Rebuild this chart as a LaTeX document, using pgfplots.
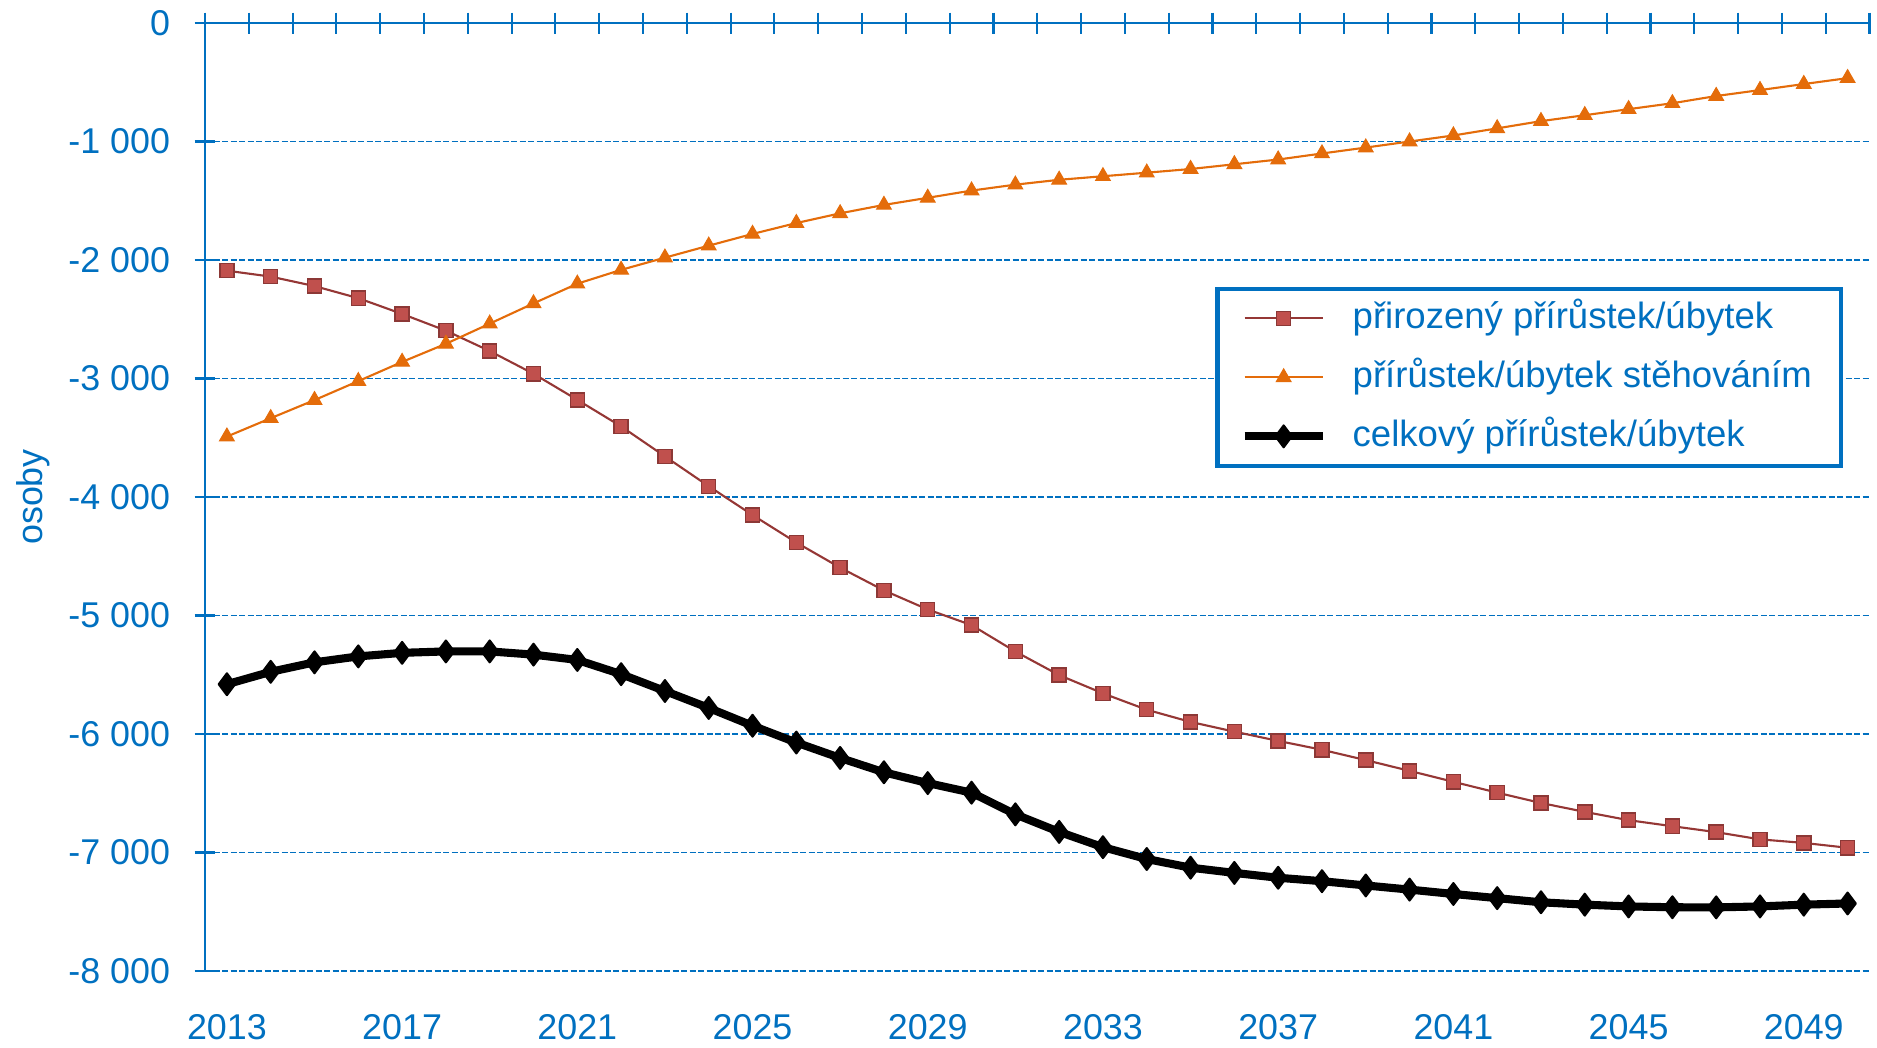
\documentclass[border=0pt]{standalone}
\usepackage{fontspec}
\setmainfont{Liberation Sans}
\usepackage{pgfplots}
\usepackage{pgfplotstable}
\pgfplotsset{compat=1.18}

\definecolor{axblue}{HTML}{0070C0}
\definecolor{natline}{HTML}{953735}
\definecolor{natfill}{HTML}{C0504D}
\definecolor{natdraw}{HTML}{8C3836}
\definecolor{migcol}{HTML}{E46C0A}

% rok, prirozeny, stehovani, celkem
\pgfplotstableread{
year nat mig tot
2013 -2090 -3490 -5580
2014 -2140 -3335 -5475
2015 -2220 -3182 -5395
2016 -2322 -3022 -5345
2017 -2455 -2860 -5315
2018 -2596 -2707 -5303
2019 -2768 -2537 -5303
2020 -2960 -2366 -5330
2021 -3180 -2200 -5375
2022 -3404 -2083 -5495
2023 -3657 -1980 -5637
2024 -3909 -1879 -5780
2025 -4152 -1780 -5930
2026 -4384 -1688 -6072
2027 -4596 -1606 -6202
2028 -4788 -1535 -6323
2029 -4949 -1475 -6414
2030 -5081 -1414 -6495
2031 -5304 -1364 -6678
2032 -5503 -1323 -6826
2033 -5657 -1293 -6955
2034 -5795 -1263 -7055
2035 -5898 -1232 -7128
2036 -5980 -1192 -7172
2037 -6058 -1152 -7213
2038 -6133 -1101 -7242
2039 -6220 -1051 -7278
2040 -6311 -1000 -7313
2041 -6403 -949 -7350
2042 -6495 -889 -7385
2043 -6582 -828 -7420
2044 -6657 -778 -7440
2045 -6727 -727 -7455
2046 -6778 -677 -7462
2047 -6828 -616 -7463
2048 -6889 -566 -7455
2049 -6919 -515 -7440
2050 -6960 -465 -7430
}\data

\pgfplotsset{
  base/.style={
    scale only axis,
    width=166.45mm, height=94.8mm,
    xmin=2012.5, xmax=2050.5,
    ymin=-8000, ymax=0,
    tick label style={font=\fontsize{10.2}{12}\selectfont, text=axblue},
  }
}

\begin{document}
\begin{tikzpicture}
  % tick labels of the years, below the plot
  \begin{axis}[base,
      hide y axis,
      axis x line*=bottom,
      x axis line style={draw=none},
      major tick length=0pt,
      xtick={2013,2017,2021,2025,2029,2033,2037,2041,2045,2049},
      xticklabels={2013,2017,2021,2025,2029,2033,2037,2041,2045,2049},
      xticklabel style={yshift=-3.1mm},
    ]
  \end{axis}

  \begin{axis}[base,
      axis x line*=top,
      axis y line*=left,
      axis line style={axblue, line width=0.6pt},
      tick style={axblue, line width=0.6pt},
      tick align=center,
      major tick length=2.1mm,
      xtick={2012.5,2013.5,...,2050.5},
      xticklabels={},
      ytick={-8000,-7000,...,0},
      yticklabels={-8 000,-7 000,-6 000,-5 000,-4 000,-3 000,-2 000,-1 000,0},
      yticklabel style={xshift=-1.2mm},
      ymajorgrids,
      grid style={axblue, line width=0.55pt, dash pattern=on 0.6mm off 0.25mm},
      ylabel={osoby},
      every axis y label/.style={at={(axis description cs:0,0.5)}, xshift=-17.2mm,
        rotate=90, anchor=center, text=axblue, font=\fontsize{10.2}{12}\selectfont},
      legend style={at={(0.607,0.722)}, anchor=north west,
        draw=axblue, line width=1.3pt, fill=white,
        font=\fontsize{10.4}{12}\selectfont, text=axblue,
        inner xsep=2.3mm, inner ysep=0.5mm, row sep=1mm, column sep=2mm,
        nodes={inner sep=0.6mm, text height=2.9mm, text depth=0.8mm}},
      legend cell align=left,
      legend image code/.code={
        \draw[mark repeat=2, mark phase=2] plot coordinates {(0mm,0mm) (3.9mm,0mm) (7.8mm,0mm)};},
    ]
    \addplot[natline, line width=0.6pt, mark=square*, mark size=2pt,
      mark options={fill=natfill, draw=natdraw, line width=0.4pt}]
      table[x=year, y=nat] {\data};
    \addlegendentry{přirozený přírůstek/úbytek}
    \addplot[migcol, line width=0.6pt, mark=triangle*, mark size=2.4pt,
      mark options={fill=migcol, draw=migcol, line width=0.3pt}]
      table[x=year, y=mig] {\data};
    \addlegendentry{přírůstek/úbytek stěhováním}
    \addplot[black, line width=2.3pt, line join=round, mark=diamond*, mark size=3.1pt,
      mark options={fill=black, line width=0.6pt}]
      table[x=year, y=tot] {\data};
    \addlegendentry{celkový přírůstek/úbytek}
  \end{axis}
  \pgfresetboundingbox
  \path[use as bounding box] (-20.5mm,-7.6mm) rectangle (167.2mm,97.1mm);
\end{tikzpicture}
\end{document}
